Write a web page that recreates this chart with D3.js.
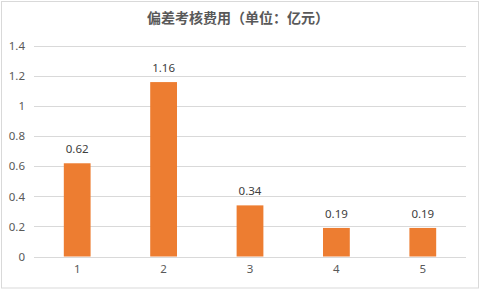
<!DOCTYPE html>
<html>
<head>
<meta charset="utf-8">
<script src="https://cdn.jsdelivr.net/npm/d3@7/dist/d3.min.js"></script>
<style>
  html, body { margin: 0; padding: 0; background: #fff; }
  svg { display: block; }
</style>
</head>
<body>
<svg id="chart" width="482" height="290"></svg>
<script>
// Chart data
const categories = ["1", "2", "3", "4", "5"];
const values = [0.62, 1.16, 0.34, 0.19, 0.19];
const yTicks = [0, 0.2, 0.4, 0.6, 0.8, 1, 1.2, 1.4];
const titleText = "偏差考核费用（单位：亿元）";

const svg = d3.select("#chart");
const W = 482, H = 290;
const font = "'Microsoft YaHei', 'Noto Sans CJK SC', sans-serif";
const latin = "'Noto Sans', 'DejaVu Sans', sans-serif";

// outer frame
svg.append("rect")
  .attr("x", 1.5).attr("y", 1.5)
  .attr("width", W - 5).attr("height", H - 3.5)
  .attr("fill", "#fff")
  .attr("stroke", "#d9d9d9").attr("stroke-width", 1);

const plot = { left: 34, right: 466, top: 46, bottom: 256.5 };

const x = d3.scaleBand()
  .domain(categories)
  .range([plot.left, plot.right])
  .paddingInner(0.69)
  .paddingOuter(0.345);

const y = d3.scaleLinear()
  .domain([0, 1.4])
  .range([plot.bottom, plot.top]);

// gridlines
svg.append("g")
  .selectAll("line")
  .data(yTicks)
  .join("line")
  .attr("x1", plot.left).attr("x2", plot.right)
  .attr("y1", d => Math.round(y(d)) + 0.5)
  .attr("y2", d => Math.round(y(d)) + 0.5)
  .attr("stroke", "#d9d9d9").attr("stroke-width", 1);

// y axis labels
const yAxis = d3.axisLeft(y).tickValues(yTicks).tickSize(0).tickPadding(0)
  .tickFormat(d => d3.format("~g")(d));
const gy = svg.append("g")
  .attr("transform", `translate(25,0)`)
  .call(yAxis);
gy.select(".domain").remove();
gy.selectAll("text")
  .attr("fill", "#595959")
  .style("font-family", latin)
  .style("font-size", "11.5px");

// bars
svg.append("g")
  .selectAll("rect")
  .data(values)
  .join("rect")
  .attr("x", (d, i) => x(categories[i]))
  .attr("width", x.bandwidth())
  .attr("y", d => y(d))
  .attr("height", d => y(0) - y(d))
  .attr("fill", "#ED7D31");

// value labels
svg.append("g")
  .selectAll("text")
  .data(values)
  .join("text")
  .attr("x", (d, i) => x(categories[i]) + x.bandwidth() / 2)
  .attr("y", d => y(d) - 10)
  .attr("text-anchor", "middle")
  .attr("fill", "#404040")
  .style("font-family", latin)
  .style("font-size", "11.5px")
  .text(d => d3.format(".2f")(d));

// x axis labels
const xAxis = d3.axisBottom(x).tickSize(0).tickPadding(0);
const gx = svg.append("g")
  .attr("transform", `translate(0,${plot.bottom + 8})`)
  .call(xAxis);
gx.select(".domain").remove();
gx.selectAll("text")
  .attr("fill", "#595959")
  .style("font-family", latin)
  .style("font-size", "11.5px");

// title
svg.append("text")
  .attr("x", 238)
  .attr("y", 23)
  .attr("text-anchor", "middle")
  .attr("fill", "#595959")
  .style("font-family", font)
  .style("font-size", "14px")
  .style("font-weight", "bold")
  .text(titleText);
</script>
</body>
</html>
